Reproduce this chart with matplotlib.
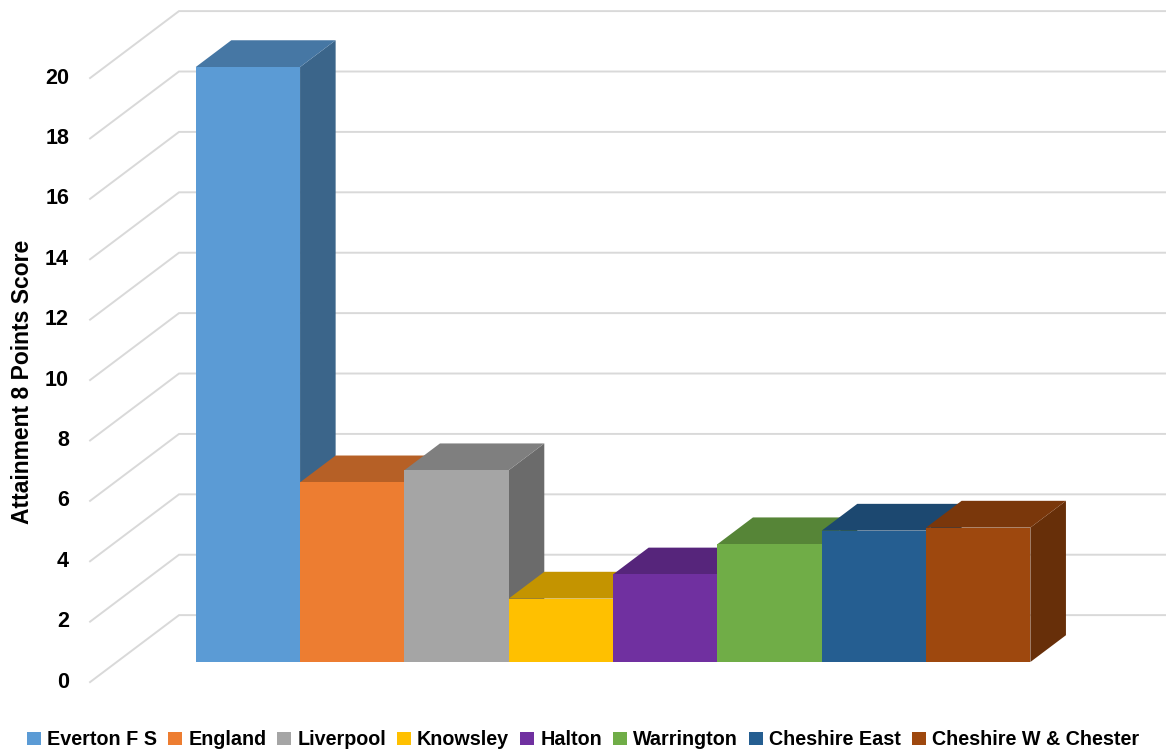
import matplotlib
matplotlib.use('Agg')
import matplotlib.pyplot as plt
import matplotlib.colors as mcolors
from matplotlib.patches import Polygon, Rectangle

areas = ['Everton F S', 'England', 'Liverpool', 'Knowsley', 'Halton',
         'Warrington', 'Cheshire East', 'Cheshire W & Chester']
scores = [19.7, 5.95, 6.35, 2.1, 2.9, 3.9, 4.35, 4.45]
colors = ['#5B9BD5', '#ED7D31', '#A5A5A5', '#FFC000', '#7030A0',
          '#70AD47', '#255E91', '#9E480E']
ticks = list(range(0, 21, 2))

# oblique offset of one bar depth, in (category, score) units
DX, DY = 0.341, 0.887
WALL_FRONT, WALL_BACK = -0.75, 1.75
WALL_LEFT, WALL_RIGHT = -0.757, 8.9

font = ['Liberation Sans', 'DejaVu Sans']
W, H = 1166, 753


def proj(x, v, d):
    return (x + DX * d, v + DY * d)


def shade(c, f):
    r, g, b = mcolors.to_rgb(c)
    return (r * f, g * f, b * f)


fig = plt.figure(figsize=(W / 100, H / 100), dpi=100)
ax = fig.add_axes([0, 0, 1, 1])
ax.set_xlim(-1.876, 9.30)
ax.set_ylim(-3.013, 21.92)
ax.axis('off')

# side wall + back wall gridlines
for t in ticks:
    pts = [proj(WALL_LEFT, t, WALL_FRONT), proj(WALL_LEFT, t, WALL_BACK),
           proj(WALL_RIGHT, t, WALL_BACK)]
    xs, ys = zip(*pts)
    ax.plot(xs, ys, color='#D9D9D9', lw=1.4, zorder=1, solid_joinstyle='miter')
    ax.annotate(str(t), pts[0], xytext=(-21, 0), textcoords='offset pixels',
                ha='right', va='center', fontsize=15.5, fontweight='bold',
                family=font, color='#000000')

# 3d bars, painted left to right so each bar hides its neighbour's side
for i, (h, c) in enumerate(zip(scores, colors)):
    side = [proj(i + 1, 0, 0), proj(i + 1, 0, 1), proj(i + 1, h, 1), proj(i + 1, h, 0)]
    top = [proj(i, h, 0), proj(i + 1, h, 0), proj(i + 1, h, 1), proj(i, h, 1)]
    front = [proj(i, 0, 0), proj(i + 1, 0, 0), proj(i + 1, h, 0), proj(i, h, 0)]
    ax.add_patch(Polygon(side, closed=True, fc=shade(c, 0.65), ec='none', zorder=2))
    ax.add_patch(Polygon(top, closed=True, fc=shade(c, 0.77), ec='none', zorder=2))
    ax.add_patch(Polygon(front, closed=True, fc=c, ec='none', zorder=2))

fig.text(0.019, 1 - 382 / H, 'Attainment 8 Points Score', rotation=90,
         ha='center', va='center', fontsize=16.5, fontweight='bold', family=font)

# legend laid out by hand so every label sits on one baseline
renderer = fig.canvas.get_renderer()
sq, pad, gap, base = 14, 6, 11, 8
labels = [fig.text(0, base / H, a, ha='left', va='baseline', fontsize=14.25,
                   fontweight='bold', family=font) for a in areas]
widths = [t.get_window_extent(renderer).width for t in labels]
total = sum(widths) + len(areas) * (sq + pad) + (len(areas) - 1) * gap
x = (W - total) / 2
for t, w, c in zip(labels, widths, colors):
    fig.patches.append(Rectangle((x / W, base / H), sq / W, 13 / H,
                                 transform=fig.transFigure, fc=c, ec='none'))
    t.set_x((x + sq + pad) / W)
    x += sq + pad + w + gap

fig.savefig('out.png', dpi=100)
